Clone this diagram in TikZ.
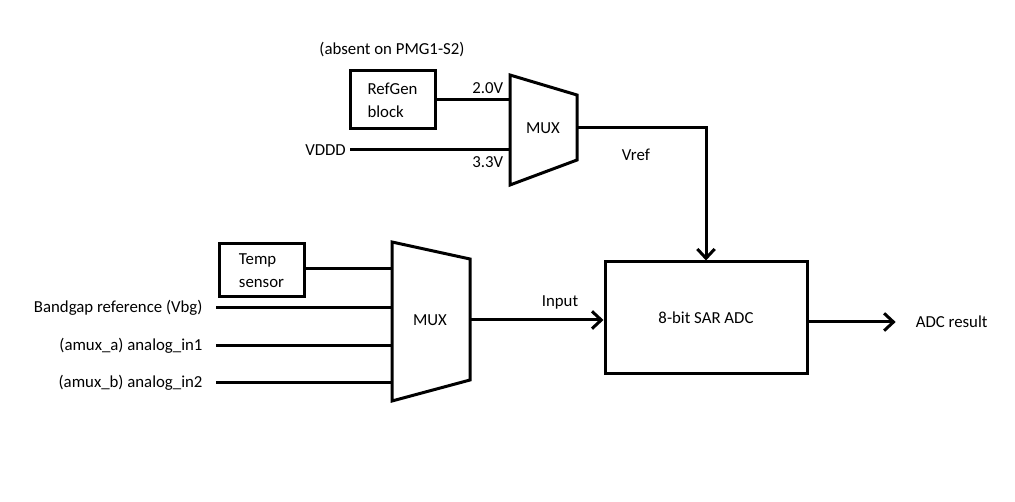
\documentclass[tikz,border=0pt]{standalone}
\usepackage{fontspec}
\setmainfont{Carlito}
\usetikzlibrary{arrows.meta, positioning}

\begin{document}
\begin{tikzpicture}[x=0.75pt, y=-0.75pt, line width=2.25pt,
  blockbox/.style={draw, line width=2.25pt, inner sep=0pt, align=left, font=\fontsize{12.6}{17}\selectfont},
  lbl/.style={font=\fontsize{12.6}{15}\selectfont, inner sep=1pt},
  srclbl/.style={lbl, anchor=east, inner xsep=9pt},
  sig/.style={-{Straight Barb[length=7pt, width=13pt, line width=2.25pt]}}]
  \useasboundingbox (0,0) rectangle (1015,502);

  % reference voltage mux
  \node[lbl] (absent) at (392,50) {(absent on PMG1-S2)};
  \node[blockbox, minimum width=63.75pt, minimum height=43.5pt] (refgen) at (392.5,100) {RefGen\\block};
  \coordinate (m1a) at (510,75);
  \coordinate (m1b) at (577,95);
  \coordinate (m1c) at (577,160);
  \coordinate (m1d) at (510,185);
  \draw (m1a) -- (m1b) -- (m1c) -- (m1d) -- cycle;
  \node[lbl] (mux1) at (543,128) {MUX};
  \coordinate (m1in1) at (510,100);
  \coordinate (m1in2) at (510,150);
  \coordinate (m1out) at (577,128);
  \node[lbl, anchor=east, inner xsep=2pt] (vddd) at (350,150) {VDDD};
  \draw (refgen.east) -- (m1in1);
  \draw (vddd.east) -- (m1in2);
  \node[lbl, anchor=east] at (506,88) {2.0V};
  \node[lbl, anchor=east] at (506,162) {3.3V};
  \node[lbl, anchor=west] at (619,155) {Vref};

  % ADC
  \node[blockbox, align=center, minimum width=151.5pt, minimum height=84pt] (adc) at (706,318) {8-bit SAR ADC};
  \draw[sig] (m1out) -| (adc.north);
  \node[lbl, anchor=west] (result) at (913,322) {ADC result};
  \draw[sig] (adc.east |- result.west) -- ([xshift=-13pt]result.west);

  % input mux
  \node[blockbox, minimum width=63.75pt, minimum height=39.75pt] (temp) at (261.5,270.5) {Temp\\sensor};
  \coordinate (m2a) at (392,242);
  \coordinate (m2b) at (470,259);
  \coordinate (m2c) at (470,380);
  \coordinate (m2d) at (392,401);
  \draw (m2a) -- (m2b) -- (m2c) -- (m2d) -- cycle;
  \node[lbl] (mux2) at (430,320) {MUX};
  \coordinate (m2in1) at (392,269);
  \coordinate (m2in2) at (392,308);
  \coordinate (m2in3) at (392,346);
  \coordinate (m2in4) at (392,383);
  \coordinate (m2out) at (470,320);
  \node[srclbl] (bandgap) at (216,308) {Bandgap reference (Vbg)};
  \node[srclbl] (ain1) at (216,346) {(amux\_a) analog\_in1};
  \node[srclbl] (ain2) at (216,383) {(amux\_b) analog\_in2};
  \draw (temp.east |- m2in1) -- (m2in1);
  \draw (bandgap.east) -- (m2in2);
  \draw (ain1.east) -- (m2in3);
  \draw (ain2.east) -- (m2in4);
  \draw[sig] (m2out) -- (adc.west |- m2out);
  \node[lbl] at (560,302) {Input};
\end{tikzpicture}
\end{document}
